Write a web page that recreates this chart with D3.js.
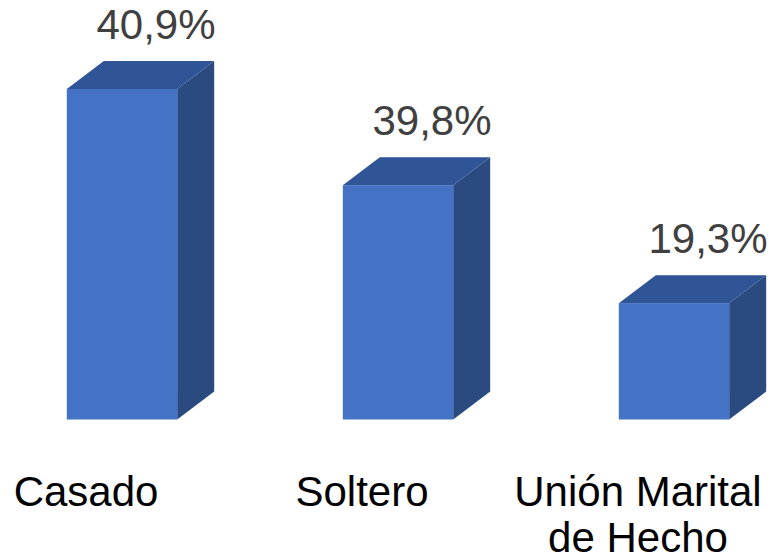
<!DOCTYPE html>
<html>
<head>
<meta charset="utf-8">
<script src="https://cdn.jsdelivr.net/npm/d3@7"></script>
<style>
  body { margin: 0; background: #fff; }
  svg { display: block; font-family: "Liberation Sans", Arial, sans-serif; }
</style>
</head>
<body>
<script>
// categories and labelled values (%)
const categories = [["Casado"], ["Soltero"], ["Unión Marital", "de Hecho"]];
const values = [40.9, 39.8, 19.3];
// bar heights as drawn in the picture (same % units)
const drawnHeights = [40.9, 29.0, 14.4];

function main(){
    const width = 770;
    const height = 559;
    const depthX = 37;
    const depthY = 28;

    const svg = d3.select("body").append("svg")
        .attr("width", width)
        .attr("height", height);

    const names = categories.map(d => d.join(" "));

    const xScale = d3.scaleBand()
        .domain(names)
        .range([13, 783])
        .paddingInner(0.6)
        .paddingOuter(0.195);

    const yScale = d3.scaleLinear()
        .domain([0, 40.9])
        .range([419.5, 89]);

    const bars = svg.selectAll(".bar")
        .data(names)
        .enter().append("g")
        .attr("class", "bar");

    const bw = xScale.bandwidth();

    //side face
    bars.append("path")
        .attr("fill", "#2B4A80")
        .attr("d", (d, i) => {
            const x1 = xScale(d) + bw, y0 = yScale(0), y1 = yScale(drawnHeights[i]);
            return `M${x1},${y0}L${x1 + depthX},${y0 - depthY}L${x1 + depthX},${y1 - depthY}L${x1},${y1}Z`;
        });

    //top face
    bars.append("path")
        .attr("fill", "#2F5597")
        .attr("d", (d, i) => {
            const x0 = xScale(d), x1 = x0 + bw, y1 = yScale(drawnHeights[i]);
            return `M${x0},${y1}L${x0 + depthX},${y1 - depthY}L${x1 + depthX},${y1 - depthY}L${x1},${y1}Z`;
        });

    //front face
    bars.append("rect")
        .attr("fill", "#4472C4")
        .attr("x", d => xScale(d))
        .attr("y", (d, i) => yScale(drawnHeights[i]))
        .attr("width", bw)
        .attr("height", (d, i) => yScale(0) - yScale(drawnHeights[i]));

    //value labels
    svg.selectAll(".value")
        .data(names)
        .enter().append("text")
        .attr("class", "value")
        .attr("x", d => xScale(d) + bw / 2 + 34)
        .attr("y", (d, i) => yScale(drawnHeights[i]) - 50)
        .attr("text-anchor", "middle")
        .attr("font-size", "42px")
        .attr("fill", "#404040")
        .text((d, i) => values[i].toFixed(1).replace(".", ",") + "%");

    //category labels
    const cat = svg.selectAll(".cat")
        .data(categories)
        .enter().append("text")
        .attr("class", "cat")
        .attr("text-anchor", "middle")
        .attr("font-size", "42px")
        .attr("fill", "#000");

    cat.selectAll("tspan")
        .data((d, i) => d.map((line, j) => ({ line, j, x: xScale(names[i]) + bw / 2 - 36 })))
        .enter().append("tspan")
        .attr("x", t => t.x)
        .attr("y", t => 506 + t.j * 46)
        .text(t => t.line);
}
main();
</script>
</body>
</html>
